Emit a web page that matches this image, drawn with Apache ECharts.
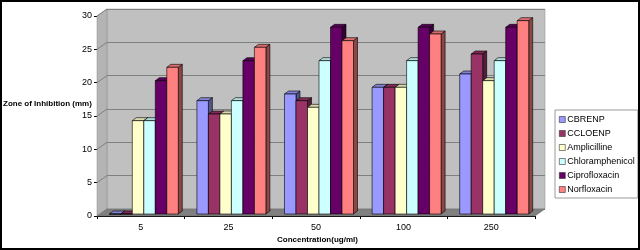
<!DOCTYPE html>
<html>
<head>
<meta charset="utf-8">
<script src="https://cdn.jsdelivr.net/npm/echarts@6/dist/echarts.min.js"></script>
<style>
html,body{margin:0;padding:0;background:#fff;}
#c{width:640px;height:250px;}
</style>
</head>
<body>
<div id="c"></div>
<script>
var categories = ['5', '25', '50', '100', '250'];
var seriesNames = ['CBRENP', 'CCLOENP', 'Amplicilline', 'Chloramphenicol', 'Ciprofloxacin', 'Norfloxacin'];
var cbrenp = [0, 17, 18, 19, 21];
var ccloenp = [0, 15, 17, 19, 24];
var amplicilline = [14, 15, 16, 19, 20];
var chloramphenicol = [14, 17, 23, 23, 23];
var ciprofloxacin = [20, 23, 28, 28, 28];
var norfloxacin = [22, 25, 26, 27, 29];
var yTicks = [0, 5, 10, 15, 20, 25, 30];

var seriesValues = [cbrenp, ccloenp, amplicilline, chloramphenicol, ciprofloxacin, norfloxacin];
var colors = ['#9999FF', '#993366', '#FFFFCC', '#CCFFFF', '#660066', '#FF8080'];
var FONT = 'Liberation Sans, Arial, sans-serif';

// layout
var FRONT = {left: 97, top: 16, width: 438, height: 200};
var DX = 10, DY = -7;        // back wall offset
var BDX = 3, BDY = -2;       // bars plane offset
var SDX = 4, SDY = -3;       // bar depth

function shade(hex, k) {
  var n = parseInt(hex.slice(1), 16);
  var r = Math.round(((n >> 16) & 255) * k), g = Math.round(((n >> 8) & 255) * k), b = Math.round((n & 255) * k);
  return 'rgb(' + r + ',' + g + ',' + b + ')';
}

var chart = echarts.init(document.getElementById('c'), null, {renderer: 'canvas'});

function renderBar(params, api) {
  var s = params.seriesIndex;
  var cat = api.value(0), val = api.value(1);
  var base = api.coord([cat, 0]);
  var top = api.coord([cat, val]);
  var band = api.size([1, 0])[0];
  var w = band * 0.1313;
  var x0 = base[0] - 3 * w + s * w;
  var x1 = x0 + w;
  var ty = top[1], by = base[1];
  var c = colors[s];
  var st = {stroke: '#000', lineWidth: 0.6};
  return {
    type: 'group',
    children: [
      {type: 'polygon', shape: {points: [[x1, ty], [x1 + SDX, ty + SDY], [x1 + SDX, by + SDY], [x1, by]]},
        style: {fill: shade(c, 0.55), stroke: '#000', lineWidth: 0.6}},
      {type: 'polygon', shape: {points: [[x0, ty], [x0 + SDX, ty + SDY], [x1 + SDX, ty + SDY], [x1, ty]]},
        style: {fill: shade(c, 0.85), stroke: '#000', lineWidth: 0.6}},
      {type: 'rect', shape: {x: x0, y: ty, width: w, height: by - ty},
        style: {fill: c, stroke: '#000', lineWidth: 0.6}}
    ]
  };
}

var series = seriesNames.map(function (name, i) {
  return {
    name: name,
    type: 'custom',
    coordinateSystem: 'cartesian2d',
    xAxisIndex: 2,
    yAxisIndex: 2,
    itemStyle: {color: colors[i]},
    renderItem: renderBar,
    encode: {x: 0, y: 1},
    data: seriesValues[i].map(function (v, j) { return [j, v]; }),
    z: 5
  };
});

// decorations: side wall, floor, side-wall gridlines, axis titles, border
var pxPerUnit = FRONT.height / 30;
var fb = FRONT.top + FRONT.height;
var graphics = [
  {type: 'polygon', z: 1, shape: {points: [[FRONT.left, FRONT.top], [FRONT.left + DX, FRONT.top + DY], [FRONT.left + DX, fb + DY], [FRONT.left, fb]]},
    style: {fill: '#B4B4B4', stroke: '#8c8c8c', lineWidth: 0.5}},
  {type: 'polygon', z: 1, shape: {points: [[FRONT.left, fb], [FRONT.left + DX, fb + DY], [FRONT.left + FRONT.width + DX, fb + DY], [FRONT.left + FRONT.width, fb]]},
    style: {fill: '#808080', stroke: '#6a6a6a', lineWidth: 0.5}}
];
yTicks.forEach(function (v) {
  var y = fb - v * pxPerUnit;
  graphics.push({type: 'line', z: 2, shape: {x1: FRONT.left, y1: y, x2: FRONT.left + DX, y2: y + DY},
    style: {stroke: '#808080', lineWidth: 1}});
});
graphics.push(
  {type: 'text', z: 10, left: 3, top: 100, style: {text: 'Zone of Inhibition (mm)', font: 'bold 8px ' + FONT, fill: '#000'}},
  {type: 'text', z: 10, left: 277, top: 236, style: {text: 'Concentration(ug/ml)', font: 'bold 8px ' + FONT, fill: '#000'}},
  {type: 'rect', z: 20, shape: {x: 1, y: 1, width: 638, height: 248}, style: {fill: 'none', stroke: '#000', lineWidth: 2}}
);

var option = {
  backgroundColor: '#fff',
  animation: false,
  textStyle: {fontFamily: FONT},
  grid: [
    {left: FRONT.left + DX, top: FRONT.top + DY, width: FRONT.width, height: FRONT.height, show: true,
      backgroundColor: '#C0C0C0', borderColor: '#8c8c8c', borderWidth: 0.5, containLabel: false},
    {left: FRONT.left, top: FRONT.top, width: FRONT.width, height: FRONT.height, containLabel: false},
    {left: FRONT.left + BDX, top: FRONT.top + BDY, width: FRONT.width, height: FRONT.height, containLabel: false}
  ],
  xAxis: [
    {type: 'category', gridIndex: 0, data: categories, show: false},
    {type: 'category', gridIndex: 1, data: categories, boundaryGap: true,
      axisLine: {show: true, lineStyle: {color: '#000', width: 1}},
      axisTick: {show: true, length: 3, interval: 0, lineStyle: {color: '#000'}},
      axisLabel: {fontSize: 9, color: '#000', margin: 7, fontFamily: FONT},
      splitLine: {show: false}},
    {type: 'category', gridIndex: 2, data: categories, show: false}
  ],
  yAxis: [
    {type: 'value', gridIndex: 0, min: 0, max: 30, interval: 5,
      axisLine: {show: false}, axisTick: {show: false}, axisLabel: {show: false},
      splitLine: {show: true, lineStyle: {color: '#808080', width: 1}}},
    {type: 'value', gridIndex: 1, min: 0, max: 30, interval: 5,
      axisLine: {show: true, lineStyle: {color: '#000', width: 1}},
      axisTick: {show: true, length: 3, lineStyle: {color: '#000'}},
      axisLabel: {fontSize: 9, color: '#000', margin: 5, fontFamily: FONT},
      splitLine: {show: false}},
    {type: 'value', gridIndex: 2, min: 0, max: 30, interval: 5, show: false}
  ],
  legend: {
    orient: 'vertical', left: 555, top: 110,
    padding: [4, 3, 3, 4], itemGap: 3, itemWidth: 6, itemHeight: 6,
    borderColor: '#9a9a9a', borderWidth: 1, backgroundColor: '#fff',
    icon: 'rect',
    itemStyle: {borderColor: '#333', borderWidth: 0.6},
    textStyle: {fontSize: 9, lineHeight: 11, color: '#000', fontFamily: FONT, padding: [0, 0, 0, -3]},
    data: seriesNames
  },
  graphic: graphics,
  series: series
};
chart.setOption(option);
</script>
</body>
</html>
